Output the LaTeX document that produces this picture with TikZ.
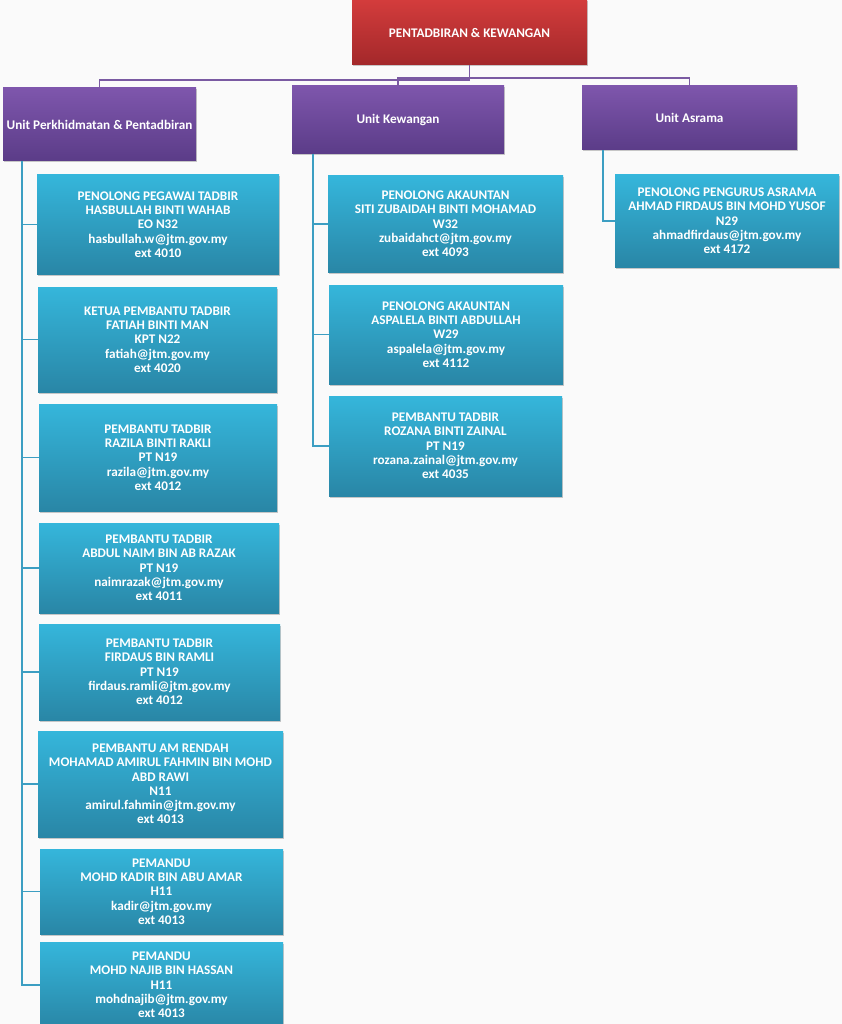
\documentclass[tikz,border=0pt]{standalone}
\usepackage{fontspec}
\setmainfont{Carlito}
\usetikzlibrary{shadows}
\definecolor{bgc}{HTML}{FAFAFA}
\definecolor{redtop}{HTML}{D33C3C}
\definecolor{redbot}{HTML}{A3282A}
\definecolor{purtop}{HTML}{7E56AC}
\definecolor{purbot}{HTML}{5B3C88}
\definecolor{cyatop}{HTML}{35B6DB}
\definecolor{cyabot}{HTML}{2986A6}
\definecolor{purline}{HTML}{7A5AA2}
\definecolor{cyaline}{HTML}{3C9EC2}
\tikzset{
  basebox/.style={rectangle, inner sep=1pt, align=center, text=white,
    font=\fontsize{13.2}{14.3}\selectfont\bfseries,
    drop shadow={shadow xshift=1.2pt, shadow yshift=-1.5pt, opacity=0.35, fill=black!60}},
  topbox/.style={basebox, top color=redtop, bottom color=redbot},
  unitbox/.style={basebox, top color=purtop, bottom color=purbot},
  staffbox/.style={basebox, top color=cyatop, bottom color=cyabot},
  topline/.style={draw=purline, line width=1.3pt},
  subline/.style={draw=cyaline, line width=1.4pt},
}
\begin{document}
\begin{tikzpicture}[x=1pt,y=-1pt]
\fill[bgc] (0,0) rectangle (842,1024);
\useasboundingbox (0,0) rectangle (842,1024);

% top
\node[topbox, minimum width=235, minimum height=65] (T) at (469.5,32.5) {PENTADBIRAN \& KEWANGAN};

% units
\node[unitbox, minimum width=193, minimum height=73] (U1) at (99.5,124.5) {Unit Perkhidmatan \& Pentadbiran};
\node[unitbox, minimum width=212, minimum height=68] (U2) at (398,120) {Unit Kewangan};
\node[unitbox, minimum width=215, minimum height=64] (U3) at (689.5,118) {Unit Asrama};

% left column
\node[staffbox, minimum width=242, minimum height=99] (L1) at (158,224.5) {PENOLONG PEGAWAI TADBIR\\HASBULLAH BINTI WAHAB\\EO N32\\hasbullah.w@jtm.gov.my\\ext 4010};
\node[staffbox, minimum width=239, minimum height=105] (L2) at (157.5,339.5) {KETUA PEMBANTU TADBIR\\FATIAH BINTI MAN\\KPT N22\\fatiah@jtm.gov.my\\ext 4020};
\node[staffbox, minimum width=238, minimum height=107] (L3) at (158,457.5) {PEMBANTU TADBIR\\RAZILA BINTI RAKLI\\PT N19\\razila@jtm.gov.my\\ext 4012};
\node[staffbox, minimum width=240, minimum height=90] (L4) at (159,568) {PEMBANTU TADBIR\\ABDUL NAIM BIN AB RAZAK\\PT N19\\naimrazak@jtm.gov.my\\ext 4011};
\node[staffbox, minimum width=241, minimum height=96] (L5) at (159.5,672) {PEMBANTU TADBIR\\FIRDAUS BIN RAMLI\\PT N19\\firdaus.ramli@jtm.gov.my\\ext 4012};
\node[staffbox, minimum width=245, minimum height=106] (L6) at (160.5,784) {PEMBANTU AM RENDAH\\MOHAMAD AMIRUL FAHMIN BIN MOHD\\ABD RAWI\\N11\\amirul.fahmin@jtm.gov.my\\ext 4013};
\node[staffbox, minimum width=243, minimum height=85] (L7) at (161.5,891.5) {PEMANDU\\MOHD KADIR BIN ABU AMAR\\H11\\kadir@jtm.gov.my\\ext 4013};
\node[staffbox, minimum width=243, minimum height=86] (L8) at (161.5,985) {PEMANDU\\MOHD NAJIB BIN HASSAN\\H11\\mohdnajib@jtm.gov.my\\ext 4013};

% middle column
\node[staffbox, minimum width=235, minimum height=96] (M1) at (445.5,224) {PENOLONG AKAUNTAN\\SITI ZUBAIDAH BINTI MOHAMAD\\W32\\zubaidahct@jtm.gov.my\\ext 4093};
\node[staffbox, minimum width=234, minimum height=99] (M2) at (446,334.5) {PENOLONG AKAUNTAN\\ASPALELA BINTI ABDULLAH\\W29\\aspalela@jtm.gov.my\\ext 4112};
\node[staffbox, minimum width=233, minimum height=100] (M3) at (445.5,446) {PEMBANTU TADBIR\\ROZANA BINTI ZAINAL\\PT N19\\rozana.zainal@jtm.gov.my\\ext 4035};

% right column
\node[staffbox, minimum width=224, minimum height=92] (R1) at (727,221) {PENOLONG PENGURUS ASRAMA\\AHMAD FIRDAUS BIN MOHD YUSOF\\N29\\ahmadfirdaus@jtm.gov.my\\ext 4172};

% top-level connectors
\coordinate (j1) at (469.5,80);
\coordinate (j2) at (398,78);
\draw[topline] (T.south) -- (j1) -| (U1.north);
\draw[topline] (U2.north) -- (j2) -| (U3.north);

% trunks
\coordinate (t1) at (22,161);
\coordinate (t2) at (313,154);
\coordinate (t3) at (603,150);
\foreach \n in {L1,L2,L3,L4,L5,L6,L7,L8} {\draw[subline] (t1) |- (\n.west);}
\foreach \n in {M1,M2,M3} {\draw[subline] (t2) |- (\n.west);}
\draw[subline] (t3) |- (R1.west);
\end{tikzpicture}
\end{document}
